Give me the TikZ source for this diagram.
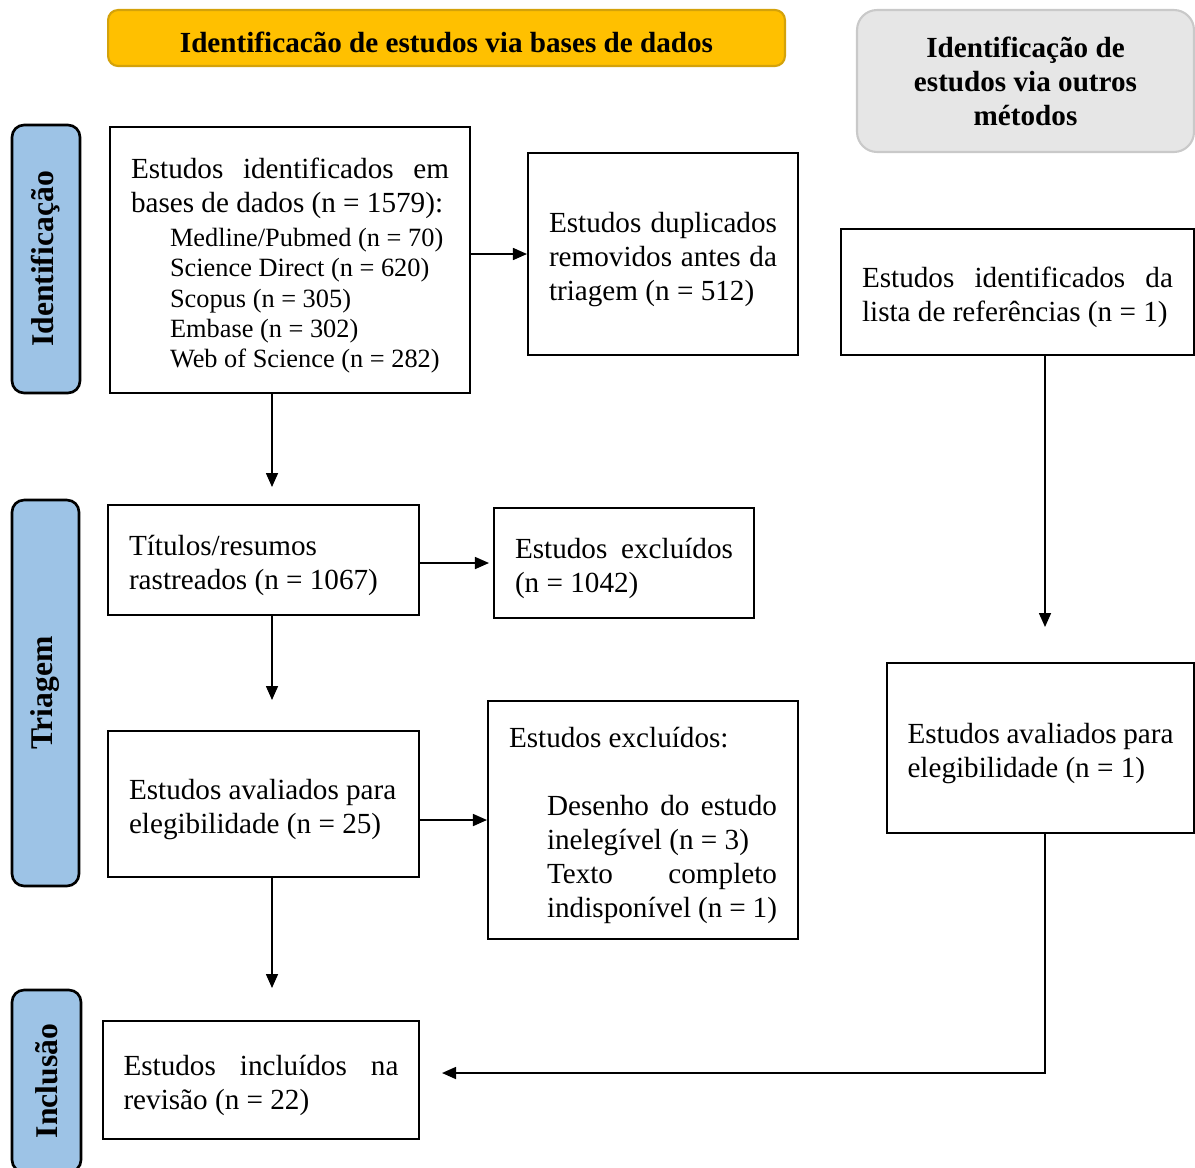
\documentclass[tikz,border=0pt]{standalone}
\usepackage{fontspec}
\setmainfont{Liberation Serif}
\usetikzlibrary{arrows.meta,calc}
\newcommand\jline[1]{\makebox[\dimexpr\hsize-\leftskip\relax][s]{#1}}
\newcommand\nsp{\spaceskip=0pt\xspaceskip=0pt\relax}
\newcommand\dn{\par\vspace{-6.5pt}\nointerlineskip\hbox{}}
\definecolor{hdrY}{HTML}{FFC000}
\definecolor{hdrYb}{HTML}{D4A20A}
\definecolor{hdrG}{HTML}{E6E6E6}
\definecolor{hdrGb}{HTML}{C9C9C9}
\definecolor{sideB}{HTML}{9DC3E6}
\begin{document}
\begin{tikzpicture}[x=0.02cm,y=-0.02cm,
  box/.style={draw=black, line width=1.2pt, inner sep=0pt, align=left,
    font=\fontsize{16.6}{19.3}\selectfont},
  side/.style={draw=black, fill=sideB, line width=1.5pt, rounded corners=0.24cm,
    rotate=90, inner sep=0pt, font=\bfseries\fontsize{18}{21}\selectfont},
  hdr/.style={line width=1.2pt, inner sep=0pt, align=center,
    font=\bfseries\fontsize{16.6}{19.3}\selectfont},
  arr/.style={line width=0.9pt, -{Triangle[length=0.28cm,width=0.24cm]}}]
\useasboundingbox (0,0) rectangle (1195,1167);

% headers
\node[hdr, draw=hdrYb, fill=hdrY, rounded corners=0.2cm,
  minimum width=13.54cm, minimum height=1.12cm] (hy) at (446.5,38)
  {\nsp\raisebox{-0.08cm}[\height][\depth]{Identificacão de estudos via bases de dados}};
\node[hdr, draw=hdrGb, fill=hdrG, rounded corners=0.4cm,
  minimum width=6.74cm, minimum height=2.84cm] (hg) at (1025.5,81)
  {\nsp Identificação de\\estudos via outros\\métodos};

% side labels
\node[side, minimum width=5.36cm, minimum height=1.36cm] (s1) at (46,259) {Identificação};
\node[side, minimum width=7.72cm, minimum height=1.34cm] (s2) at (45.5,693) {Triagem};
\node[side, minimum width=3.64cm, minimum height=1.38cm] (s3) at (46.5,1081) {Inclusão};

% boxes
\node[box, minimum width=7.2cm, minimum height=5.32cm, text width=6.36cm] (b1) at (290,260)
  {\nsp\jline{Estudos identificados em}\\bases de dados (n = 1579):\par\vspace{2pt}
   {\fontsize{15}{17.3}\selectfont\leftskip=0.78cm
   Medline/Pubmed (n = 70)\\Science Direct (n = 620)\\Scopus (n = 305)\\Embase (n = 302)\\Web of Science (n = 282)\par}\dn};
\node[box, minimum width=5.4cm, minimum height=4.04cm, text width=4.56cm] (b2) at (663,254)
  {\nsp\jline{Estudos duplicados}\\\jline{removidos antes da}\\triagem (n = 512)\dn};
\node[box, minimum width=6.22cm, minimum height=2.2cm, text width=5.38cm] (b3) at (263.5,560)
  {\nsp Títulos/resumos\\rastreados (n = 1067)\dn};
\node[box, minimum width=5.2cm, minimum height=2.2cm, text width=4.36cm] (b4) at (624,563)
  {\nsp\jline{Estudos excluídos}\\(n = 1042)\dn};
\node[box, minimum width=6.22cm, minimum height=2.92cm, text width=5.38cm] (b5) at (263.5,804)
  {\nsp Estudos avaliados para\\elegibilidade (n = 25)\dn};
\node[box, minimum width=6.2cm, minimum height=4.76cm, text width=5.36cm] (b6) at (643,820)
  {\nsp Estudos excluídos:\par\vspace{19.3pt}
   {\leftskip=0.76cm \jline{Desenho do estudo}\\inelegível (n = 3)\\\jline{Texto completo}\\indisponível (n = 1)\par}\dn};
\node[box, minimum width=6.32cm, minimum height=2.36cm, text width=5.5cm] (b7) at (261,1080)
  {\nsp\jline{Estudos incluídos na}\\revisão (n = 22)\dn};
\node[box, minimum width=7.06cm, minimum height=2.52cm, text width=6.22cm] (r1) at (1017.5,292)
  {\nsp\jline{Estudos identificados da}\\lista de referências (n = 1)\dn};
\node[box, minimum width=6.14cm, minimum height=3.4cm, text width=5.32cm] (r2) at (1040.5,748)
  {\nsp Estudos avaliados para\\elegibilidade (n = 1)\dn};

% arrow end points
\coordinate (c1) at (272,487);
\coordinate (c2) at (272,700);
\coordinate (c3) at (272,988);
\coordinate (c4) at (1045,627);
\coordinate (c5) at (442,1073);

% connectors
\draw[arr] (b1.east |- b2.west) -- (b2.west);
\draw[arr] (c1 |- b1.south) -- (c1);
\draw[arr] (b3.east |- b4.west) -- ($(b4.west)+(-4,0)$);
\draw[arr] (c2 |- b3.south) -- (c2);
\draw[arr] (b5.east |- b6.west) -- (b6.west);
\draw[arr] (c3 |- b5.south) -- (c3);
\draw[arr] (c4 |- r1.south) -- (c4);
\draw[arr] (c4 |- r2.south) |- (c5);
\end{tikzpicture}
\end{document}
